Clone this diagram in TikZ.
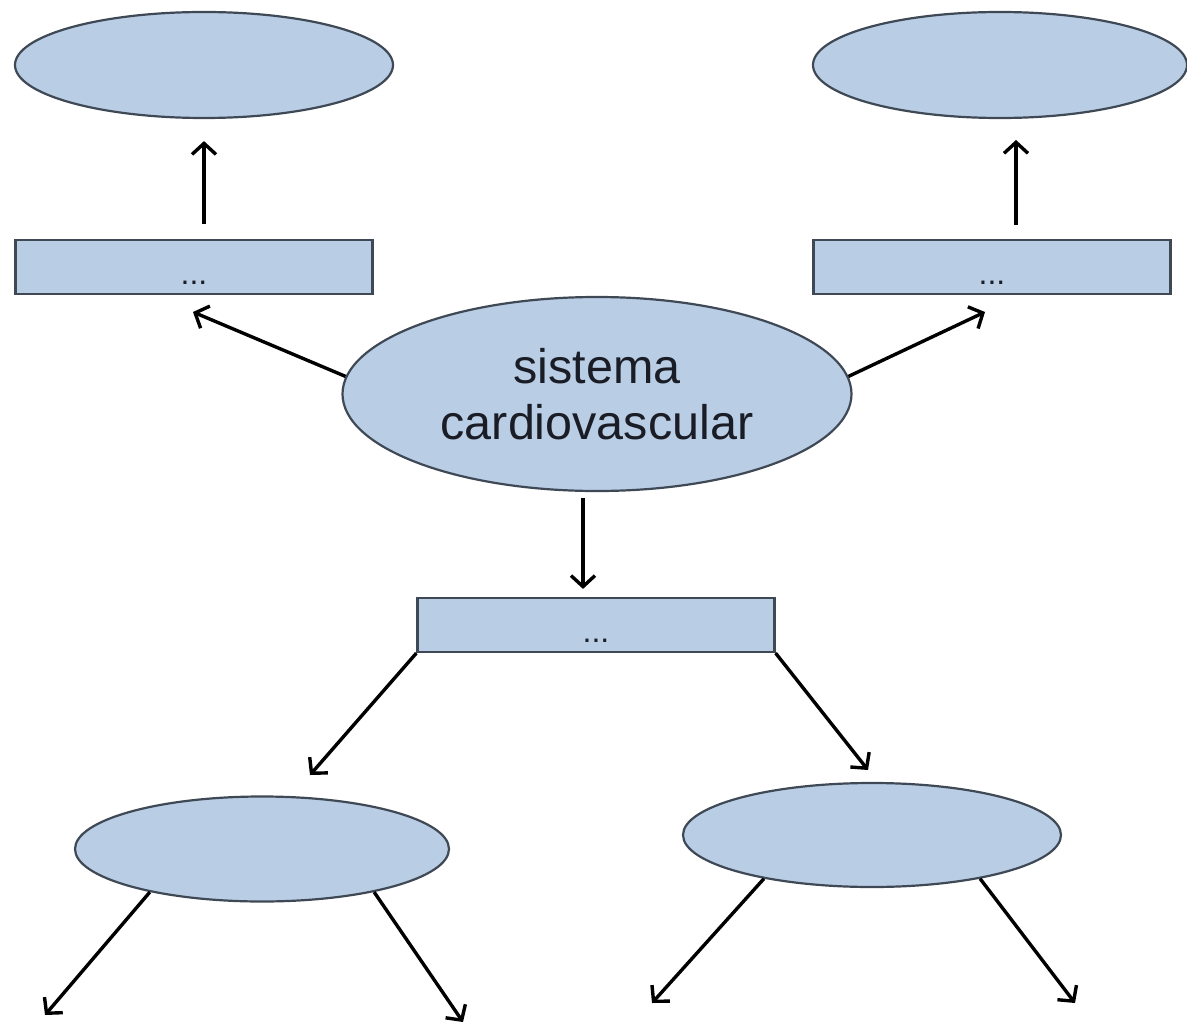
\documentclass[tikz,border=0pt]{standalone}
\usepackage{fontspec}
\setmainfont{Liberation Sans}
\usetikzlibrary{shapes.geometric,arrows.meta}
\definecolor{boxfill}{HTML}{B9CDE5}
\definecolor{boxline}{HTML}{3F4955}
\definecolor{ink}{HTML}{1A1D26}
\begin{document}
\begin{tikzpicture}[x=1pt,y=-1pt,
  bubble/.style={ellipse,draw=boxline,line width=2.2pt,fill=boxfill,inner sep=0pt},
  bar/.style={rectangle,draw=boxline,line width=2.2pt,fill=boxfill,inner sep=0pt,
    minimum width=357pt,minimum height=54pt},
  dots/.style={label={[font=\fontsize{32}{32}\selectfont,text=ink,yshift=-16pt]center:...}},
  link/.style={line width=3.4pt,-{Straight Barb[length=11pt,width=24pt,line width=3.4pt]}}]
\useasboundingbox (0,0) rectangle (1187,1025);

% shapes
\node[bubble,minimum width=378pt,minimum height=106pt] (eTL) at (204,65) {};
\node[bubble,minimum width=374pt,minimum height=106pt] (eTR) at (1000,65) {};
\node[bar,dots] (rTL) at (194,267) {};
\node[bar,dots] (rTR) at (992,267) {};
\node[bubble,minimum width=509pt,minimum height=194pt,align=center,text=ink,
  font=\fontsize{48.5}{56}\selectfont] (eC) at (597,394)
  {sistema\\cardiovascular};
\node[bar,dots] (rM) at (596,625) {};
\node[bubble,minimum width=374pt,minimum height=105pt] (eBL) at (262,849) {};
\node[bubble,minimum width=378pt,minimum height=104pt] (eBR) at (872,835) {};

% free ends of the connectors
\coordinate (tTR) at (1016,225);
\coordinate (hTR) at (1016,140);
\coordinate (hL) at (193,312);
\coordinate (hR) at (985,312);
\coordinate (hML) at (310,775);
\coordinate (hMR) at (868,770);
\coordinate (f1) at (45,1015);
\coordinate (f2) at (463,1022);
\coordinate (f3) at (652,1003);
\coordinate (f4) at (1075,1003);

% connectors
\draw[link,shorten <=15pt,shorten >=22pt] (rTL.north -| eTL.south) -- (eTL.south);
\draw[link] (tTR) -- (hTR);
\draw[link] (eC.176) -- (hL);
\draw[link] (eC.4) -- (hR);
\draw[link,shorten <=6pt,shorten >=8pt] (eC.south -| rM.north) ++(-13,0) -- ([xshift=-13pt]rM.north);
\draw[link] (rM.south west) -- (hML);
\draw[link] (rM.south east) -- (hMR);
\draw[link] (eBL.201) -- (f1);
\draw[link] (eBL.339) -- (f2);
\draw[link] (eBR.202) -- (f3);
\draw[link] (eBR.338) -- (f4);
\end{tikzpicture}
\end{document}
